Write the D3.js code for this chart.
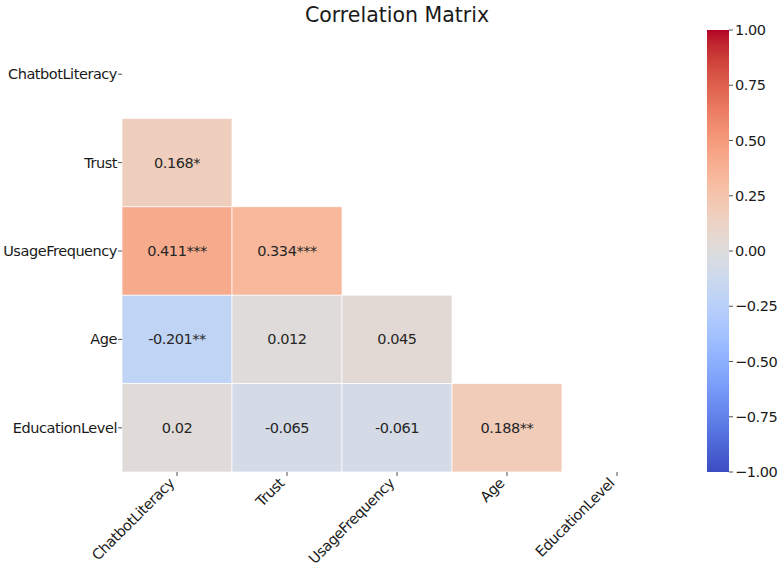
<!DOCTYPE html>
<html>
<head>
<meta charset="utf-8">
<script src="https://cdn.jsdelivr.net/npm/d3@7"></script>
<style>
  body { margin: 0; background: #fff; }
  svg { font-family: "DejaVu Sans", sans-serif; }
  .lbl { letter-spacing: -0.45px; }
</style>
</head>
<body>
<div id="chart"></div>
<script>
"use strict";

// variables (rows and columns share the same order)
const variables = ["ChatbotLiteracy", "Trust", "UsageFrequency", "Age", "EducationLevel"];

// lower triangle cells: row index, column index, r, label with stars
const rowIndex = [1, 2, 2, 3, 3, 3, 4, 4, 4, 4];
const colIndex = [0, 0, 1, 0, 1, 2, 0, 1, 2, 3];
const corrValues = [0.168, 0.411, 0.334, -0.201, 0.012, 0.045, 0.02, -0.065, -0.061, 0.188];
const corrLabels = ["0.168*", "0.411***", "0.334***", "-0.201**", "0.012", "0.045", "0.02", "-0.065", "-0.061", "0.188**"];

const colorbarTicks = [1, 0.75, 0.5, 0.25, 0, -0.25, -0.5, -0.75, -1];

// matplotlib coolwarm (Moreland), 33 samples
const coolwarm = [
  [59,76,192],[68,90,204],[77,104,215],[87,117,225],[98,130,234],[108,142,241],
  [119,154,247],[130,165,251],[141,176,254],[152,185,255],[163,194,255],[174,201,253],
  [184,208,249],[194,213,244],[204,217,238],[213,219,230],[221,221,221],[229,216,209],
  [236,211,197],[241,204,185],[245,196,173],[247,187,160],[247,177,148],[247,166,135],
  [244,154,123],[241,141,111],[236,127,99],[229,112,88],[222,96,77],[213,80,66],
  [203,62,56],[192,40,47],[180,4,38]
];
const interp = d3.interpolateRgbBasis(coolwarm.map(c => d3.rgb(c[0], c[1], c[2])));
const color = d3.scaleSequential(interp).domain([-1, 1]);

const width = 781, height = 569;
const fontSize = 14.5;
const svg = d3.select("#chart").append("svg")
  .attr("width", width).attr("height", height);

const plot = { left: 122, right: 672, top: 30, bottom: 472 };

const x = d3.scaleBand().domain(d3.range(variables.length)).range([plot.left, plot.right]);
const y = d3.scaleBand().domain(d3.range(variables.length)).range([plot.top, plot.bottom]);

const cells = rowIndex.map((r, i) => ({ r, c: colIndex[i], v: corrValues[i], label: corrLabels[i] }));

// cells
svg.append("g").selectAll("rect")
  .data(cells)
  .join("rect")
  .attr("x", d => x(d.c))
  .attr("y", d => y(d.r))
  .attr("width", x.bandwidth())
  .attr("height", y.bandwidth())
  .attr("fill", d => color(d.v))
  .attr("stroke", "#fff")
  .attr("stroke-width", 0.7);

// annotations
svg.append("g").selectAll("text")
  .data(cells)
  .join("text")
  .attr("class", "lbl")
  .attr("x", d => x(d.c) + x.bandwidth() / 2)
  .attr("y", d => y(d.r) + y.bandwidth() / 2)
  .attr("dy", "0.35em")
  .attr("text-anchor", "middle")
  .attr("font-size", fontSize)
  .attr("fill", "#262626")
  .text(d => d.label);

// y axis
const yAxis = svg.append("g");
variables.forEach((name, i) => {
  const cy = y(i) + y.bandwidth() / 2;
  yAxis.append("line")
    .attr("x1", plot.left - 4).attr("x2", plot.left)
    .attr("y1", cy).attr("y2", cy)
    .attr("stroke", "#262626").attr("stroke-width", 0.8);
  yAxis.append("text")
    .attr("class", "lbl")
    .attr("x", plot.left - 5).attr("y", cy)
    .attr("dy", "0.35em")
    .attr("text-anchor", "end")
    .attr("font-size", fontSize)
    .attr("fill", "#1a1a1a")
    .text(name);
});

// x axis
const xAxis = svg.append("g");
variables.forEach((name, i) => {
  const cx = x(i) + x.bandwidth() / 2;
  xAxis.append("line")
    .attr("x1", cx).attr("x2", cx)
    .attr("y1", plot.bottom).attr("y2", plot.bottom + 4)
    .attr("stroke", "#262626").attr("stroke-width", 0.8);
  xAxis.append("text")
    .attr("class", "lbl")
    .attr("transform", `translate(${cx - 9},${plot.bottom + 5}) rotate(-45)`)
    .attr("dy", "0.7em")
    .attr("text-anchor", "end")
    .attr("font-size", fontSize)
    .attr("fill", "#1a1a1a")
    .text(name);
});

// colorbar
const cb = { x: 707, w: 22, top: 30, bottom: 472 };
const cbScale = d3.scaleLinear().domain([-1, 1]).range([cb.bottom, cb.top]);
const defs = svg.append("defs");
const grad = defs.append("linearGradient")
  .attr("id", "cbGrad")
  .attr("x1", 0).attr("y1", 1).attr("x2", 0).attr("y2", 0);
d3.range(0, 1.0001, 1 / 32).forEach(t => {
  grad.append("stop")
    .attr("offset", `${t * 100}%`)
    .attr("stop-color", interp(t));
});
svg.append("rect")
  .attr("x", cb.x).attr("y", cb.top)
  .attr("width", cb.w).attr("height", cb.bottom - cb.top)
  .attr("fill", "url(#cbGrad)");

const fmt = v => (v < 0 ? "\u2212" : "") + Math.abs(v).toFixed(2);
const cbAxis = svg.append("g");
colorbarTicks.forEach(v => {
  const ty = cbScale(v);
  cbAxis.append("line")
    .attr("x1", cb.x + cb.w).attr("x2", cb.x + cb.w + 4)
    .attr("y1", ty).attr("y2", ty)
    .attr("stroke", "#262626").attr("stroke-width", 0.8);
  cbAxis.append("text")
    .attr("class", "lbl")
    .attr("x", cb.x + cb.w + 6).attr("y", ty)
    .attr("dy", "0.35em")
    .attr("font-size", fontSize)
    .attr("fill", "#1a1a1a")
    .text(fmt(v));
});

// title
svg.append("text")
  .attr("x", 397).attr("y", 22)
  .attr("text-anchor", "middle")
  .attr("font-size", 20.5)
  .attr("fill", "#1a1a1a")
  .text("Correlation Matrix");
</script>
</body>
</html>
